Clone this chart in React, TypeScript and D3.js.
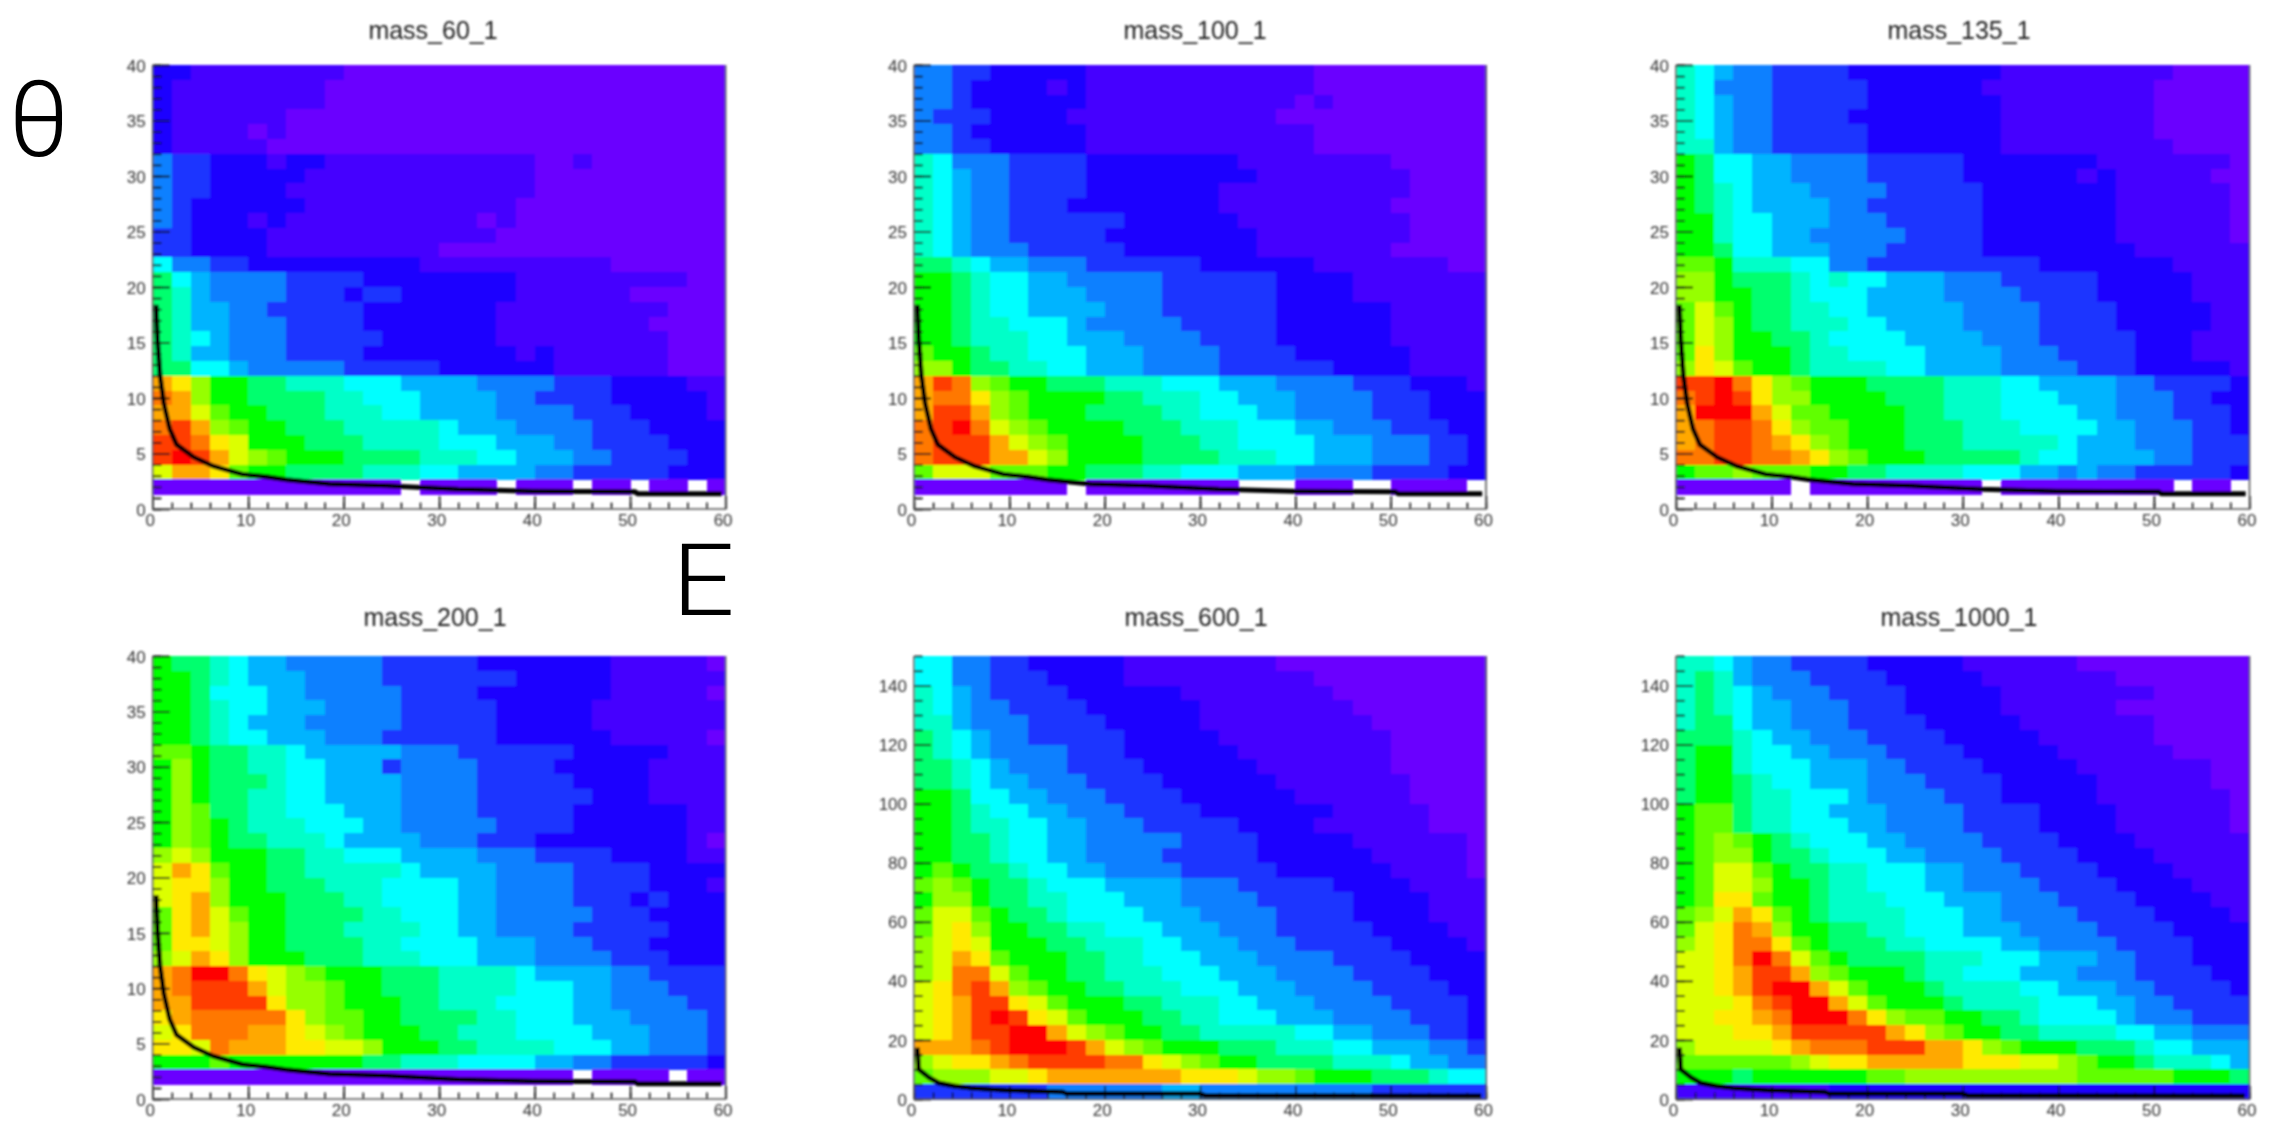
import React, { useEffect, useRef } from "react"
import * as d3 from "d3"

// z levels are written as letters a..r, "." is an empty bin. rows run top to bottom.
const levelColors = ["#6a00ff","#4400ff","#1a00ff","#1a35ff","#0f80ff","#00b4ff","#00ffff","#00ffc8","#00ff6e","#00ff00","#60ff00","#96ff00","#dcff00","#ffea00","#ffa800","#ff7800","#ff3c00","#ff0000"]

const xBinEdges = d3.range(0, 61, 2)
const xMajor = [0, 10, 20, 30, 40, 50, 60]
const xMinor = d3.range(0, 61, 2)
const yMajorNarrow = [0, 5, 10, 15, 20, 25, 30, 35, 40]
const yMinorNarrow = d3.range(0, 41, 1)
const yMajorWide = [0, 20, 40, 60, 80, 100, 120, 140]
const yMinorWide = d3.range(0, 151, 5)

// threshold curve, [E, theta]
const curveNarrow = [[0.35,18.4],[0.5,15.3],[0.76,12.1],[1.17,9.5],[1.78,7.2],[2.5,5.8],[4.3,4.67],[6.35,3.86],[9.4,3.12],[11.9,2.9],[14,2.64],[18.5,2.25],[24.6,2.09],[26,2.03],[32,1.77],[39.8,1.6],[50.5,1.55],[50.8,1.38],[59.6,1.38]]
const curveWide = [[0.35,17.4],[0.5,10],[1.6,7.2],[2.6,5.4],[4.2,4.4],[6.2,3.6],[9.7,3],[15.6,2.4],[16,1.8],[30,1.8],[30.5,1.2],[59.5,1]]

const mass60 = [
  "ccbbb bbbbb aaaaa aaaaa aaaaa aaaaa",
  "cbbbb bbbba aaaaa aaaaa aaaaa aaaaa",
  "cbbbb bbbba aaaaa aaaaa aaaaa aaaaa",
  "cbbbb bbaaa aaaaa aaaaa aaaaa aaaaa",
  "cbbbb abaaa aaaaa aaaaa aaaaa aaaaa",
  "cbbbb baaaa aaaaa aaaaa aaaaa aaaaa",
  "eddcc cbccb bbbbb bbbbb aabaa aaaaa",
  "eddcc cccbb bbbbb bbbbb aaaaa aaaaa",
  "eddcc ccbbb bbbbb bbbbb aaaaa aaaaa",
  "edccc cccbb bbbbb bbbba aaaaa aaaaa",
  "edccc bcbbb bbbbb bbaba aaaaa aaaaa",
  "ddccc cbbbb bbbbb bbbaa aaaaa aaaaa",
  "ddccc cbbbb bbbbb aaaaa aaaaa aaaaa",
  "geedd ccccc ccccb bbbbb bbbba aaaaa",
  "igfee eeddd dcccc ccccb bbbbb bbbaa",
  "ihfee eeddd cddcc ccccb bbbbb aaaaa",
  "ihffe edddd dcccc cccbb bbbbb bbaaa",
  "ihffe eeddd dcccc cccbb bbbbb baaaa",
  "ihgfe eeddd ddccc cccbb bbbbb bbaaa",
  "ihffe eeddd dcccc ccccb cbbbb bbaaa",
  "iiggf eeeee ddddd ccccc cbbbb bbaaa",
  "onljj iihhh gggff ffeee edddc cccbb",
  "poljj iiiih hgggf fffee ddddc ccccb",
  "oomkj jiiih hhggf fffee eeddd ccccb",
  "pqolk jjiii hhhhh gfffe eeedd dcccc",
  "qqpnm jjjii ihhhh gggff feedd ddccc",
  "qrqom lkjjj iiiih hhggf ffeed dddcc",
  "moonk jjiii ihhhg gffff eeddd ddccc",
  "aaaaa aaaaa aaa.a aaa.a aa.aa .aa.a",
  "..... ..... ..... ..... ..... .....",
]

const mass100 = [
  "eeddc ccccb bbbbb bbbbb baaaa aaaaa",
  "eedcc ccbcb bbbbb bbbbb baaaa aaaaa",
  "eedcc ccccb bbbbb bbbbb abaaa aaaaa",
  "edddc cccbb bbbbb bbbba aaaaa aaaaa",
  "eedcc ccccb bbbbb bbbbb baaaa aaaaa",
  "eeddc ccccb bbbbb bbbbb baaaa aaaaa",
  "hgeee ddddc ccccc ccbbb bbbbb aaaaa",
  "hgfee ddddc ccccc cccbb bbbbb baaaa",
  "hgfee ddddc ccccc cbbbb bbbbb baaaa",
  "hgfee dddcc ccccc cbbbb bbbbb aaaaa",
  "hgfee ddddd dcccc ccbbb bbbbb baaaa",
  "hgfee ddddd ccccc cccbb bbbbb baaaa",
  "hgfee edddd dcccc cccbb bbbbb aaaaa",
  "iihgf feeed ddddd ccccc cbbbb bbbaa",
  "jjihg gffee eeedd ddddc cccbb bbbbb",
  "jjihg gfffe eeedd ddddc cccbb bbbbb",
  "jjihg gffff eeedd ddddc ccccc bbbbb",
  "jjihh gggfe eeeed ddddc ccccc bbbbb",
  "jjihh hggff feeee ddddc ccccc bbbbb",
  "kjjih hgggf ffeee edddd ccccc cbbbb",
  "lljii hhggf ffeee edddd ddccc cbbbb",
  "oqplk jjiii hhhgg gfffe eeedd dcccb",
  "oppnl kjjjj iihhh ggfff eeeed ddccc",
  "oqqol kjjji iiihh gggff eeeed ddccc",
  "pqrpm lkjjj jiiih hhggg ffeee dddcc",
  "pqqqo mlkjj jjiii hhggg gfffe eeddc",
  "pqqqo omljj jjiii ihhhg gfffe eeddc",
  "kmmmk kkjji iihhg ggfff eeeed dddcc",
  "aaaaa aaa.a aaaaa aa... aaa.. aaaa.",
  "..... ..... ..... ..... ..... .....",
]

const mass135 = [
  "hgfee ddddc ccccc ccbbb bbbbb baaaa",
  "hgeee ddddd ccccc cbbbb bbbbb aaaaa",
  "hgfee ddddd ccccc ccbbb bbbbb aaaaa",
  "hgfee ddddc ccccc ccbbb bbbbb aaaaa",
  "hgfee ddddd ccccc ccbbb bbbbb aaaaa",
  "hhfee ddddd ccccc ccbbb bbbbb baaaa",
  "jiggf feeee ddddd ccccc ccbbb bbbba",
  "jiggf feeee ddddd ccccc cbcbb bbbaa",
  "jihgf ffeee edddd dcccc cccbb bbbba",
  "jihgf fffee ddddd dcccc cccbb bbbba",
  "jjhgg fffee edddd dcccc cccbb bbbba",
  "jjhgg ffeee eeddd dcccc cccbb bbbba",
  "jjigg fffee edddd dcccc ccccb bbbbb",
  "kkjhh hggee ddddd ddddc ccccc cbbbb",
  "lljii ihghg gfffe eeddd ddccc ccbbb",
  "lljji ihggg ffffe eeedd ddccc ccbbb",
  "kmkji ihhgg fffff eeeed dddcc cccbb",
  "kmlji ihhhg gffff eeeed dddcc cccbb",
  "kmljj iihgg ggfff feeed ddddc ccbbb",
  "knljj jihhg gggff ffeee ddddc ccbbb",
  "lnmkj jihhh hggff ffeee edddc ccccb",
  "qqrpn lkjjj iiiih hhggf fffee ddddc",
  "pqrqn lljjj jiiih hhggg fffee eddcc",
  "orrro mkkjj jjiih hhggg gffee edddc",
  "opqqp nlkkj jjiii hhhgg ggffe eeddc",
  "opqqp onlkj jjiii hhhhh gfffe eeddd",
  "ppqqp ponlk jjjii iiihg gffff eeddd",
  "jkklk kkjji ihhhh gggff efeed ddddc",
  "aaaaa a.aaa aaaaa a.aaa aaaaa a.aa.",
  "..... ..... ..... ..... ..... .....",
]

const mass200 = [
  "jiihg ffeee eeddd ddccc ccccb bbbba",
  "jjihg fffee eeddd ddddc ccccb bbbbb",
  "jjigg gffee eeedd ddccc ccccb bbbba",
  "jjihg gfffe eeedd dddcc cccbb bbbbb",
  "jjihg fffee eeedd dddcc cccbb bbbbb",
  "jjihg gfffe eeddd dddcc ccccb bbbba",
  "kkjii hhgff fffee edddd ddccc ccbbb",
  "jljii hhggf ffdee eeddd dcccc cbbbb",
  "jljii ihggf fffee eeddd ddccc cbbbb",
  "jljii hhggf fffee eeddd dddcc cbbbb",
  "jlkii hhggg fffee eeddd ddccc cccbb",
  "jlkji hhhgg gffee eeedd ddccc cccbb",
  "jlkji ihhhg ffffe eeddd ccccc cccba",
  "lmljj jiihh gggff ffeee ddddc cccbb",
  "monkj jiihh hhhgf fffee eeddd dcccc",
  "mnnlj jiiih hhggg gffee eeddd dcccb",
  "mnolj jjiii hhggg gffee eeddd cdccc",
  "knomk jjiii ihhgg gffee eeedd dcccc",
  "knoml jjiii hhhhg gffee eeddd ddccc",
  "knnml jjiii ihhgg ggfff eeedd dcccc",
  "lmonl jjjii ihhhg ggfff eeeed ddccc",
  "oprrp nmlkj jjiii hhhhg ffffe edddd",
  "opqqq omllk jjiii hhhhg ggffe eeddd",
  "ooqqq qnllk jjjii hhhgg ggffe eeedd",
  "noppp ppnlk kjjii iihhg ggfff eeeed",
  "mnppp oonml kjjji ihhhg gggff feeed",
  "nnmpo oonnm mljjj iihhh hgggf feeed",
  "jjjkj jjjjj jiihh hgggg ffeed ddddc",
  "aaaaa aaaaa aaaaa aaaaa aa.aa aa.aa",
  "..... ..... ..... ..... ..... .....",
]

const mass600 = [
  "ggeed dcccc cbbbb bbbba aaaaa aaaaa",
  "ggeed ddccc cbbbb bbbbb baaaa aaaaa",
  "hgfed dddcc ccccb bbbbb bbaaa aaaaa",
  "hgfee ddddc ccccc bbbbb bbbaa aaaaa",
  "hhfee edddd ccccc bbbbb bbbba aaaaa",
  "ihgfe edddd dcccc cbbbb bbbbb aaaaa",
  "ihgfe eeedd dcccc ccbbb bbbbb aaaaa",
  "iihgf eeedd ddccc cccbb bbbbb aaaaa",
  "iihgf feeed dddcc ccccb bbbbb baaaa",
  "jjigg ffeee ddddc ccccc bbbbb baaaa",
  "jjihg gffee edddd ccccc ccbbb bbaaa",
  "jjihh ggffe eeddd ddccc cbbbb bbaaa",
  "jjiih ggffe eeeed dddcc cccbb bbbba",
  "jjiih ggffe eeedd dddcc ccccb bbbba",
  "jkjii hggff eeeed ddddc ccccc bbbba",
  "klkji ihggg ffffe eeddd ddccc cbbbb",
  "jllji ihhgg gfffe eeedd dddcc ccbbb",
  "kmmkj iihgg ggfff eeeed dddcc ccbbb",
  "kmnlj jiihh gggff feeed ddddc cccbb",
  "lmnmj jjiih hhggf ffeee ddddd ccccb",
  "lmonk jjjii hhggg fffee eeddd dcccc",
  "lmppm kjjii hhhgg gfffe eeedd ddccc",
  "mnpqo lkjji ihhhg ggfff eeeed dddcc",
  "mnoqq nmkjj jiihh hggff feeee ddddc",
  "mnoqr qnmkj jjiih hgggf ffeee edddc",
  "mnoqq rroml kjjii hhhhh ggffe eeddc",
  "ooopq rrrqo mlkjj jiiih hhggf ffeed",
  "lmnno pqqqq ppnml kjjii iihhh gffee",
  "klllm mnooo oooon nnmll kjjji iihgg",
  "ddddd ddeee eeeff eeeee eeeed ddddd",
]

const mass1000 = [
  "hhgfe edddd ccccc bbbbb baaaa aaaaa",
  "hihfe eeddd dcccc cbbbb bbbaa aaaaa",
  "hihgf eeedd ddccc ccbbb bbbbb aaaaa",
  "hihgf feeed ddccc ccbbb bbbaa aaaaa",
  "hiigf feeed dddcc cccbb bbbbb aaaaa",
  "iiihg ffeee ddddc ccccb bbbbb aaaaa",
  "ijjhg gffee edddd ccccc bbbbb baaaa",
  "ijjhg ggfff eeddd dcccc cbbbb bbbaa",
  "ijjih ggfff eeedd ddccc ccbbb bbbaa",
  "ijjih hgggf eeeed ddccc ccbbb bbbba",
  "jkkih hggff feeee ddddc cccbb bbbba",
  "jkkih hgggf feeee ddddc cccbb bbbba",
  "jklkj ihggg ffeee edddd ccccb bbbbb",
  "jkllj iihgg gffee eeddd dcccc bbbbb",
  "jkmmk jiihh gggff eeedd ddccc cbbbb",
  "jkmml jjihh gggff eeeed dddcc ccbbb",
  "jknnk jjihh hgggf ffeee ddddc cccbb",
  "klmon kjihh hhggg ffeee edddd ccccb",
  "kmnpo ljjii hhggg fffee eeddd dcccc",
  "lmnpp nkjii ihhgg ggffe eeedd ddccc",
  "mmnpr pmkji iiihh hgggf ffeed ddccc",
  "mmnoq qolkj jjihh gggff feeed dddcc",
  "mmnoq rromk jjjih hhhgg fffee ddddc",
  "mmmnp qrrom kjjji hhhhg ggffe edddd",
  "mmnno prrrp nlkkj jiihg gggfe eeddd",
  "mmmnn oqqqq qonlk jjiih hhhgg ffeee",
  "lmmmm noppp qqqoo nlkjj jiiih ggfff",
  "kkkkk klmnn ooooo nnnmm lkjji hhhgf",
  "jjjij jjjjj kklll lllll lkkkk kjjji",
  "bbbbb bbbcc ccccc ccccc ccccc ccccc",
]

const panels = [
  { title: "mass_60_1", rows: mass60, yMax: 40, left: 152.7, right: 725.6, top: 65, bottom: 509, titleX: 433, titleY: 39 },
  { title: "mass_100_1", rows: mass100, yMax: 40, left: 914, right: 1486, top: 65, bottom: 509, titleX: 1195, titleY: 39 },
  { title: "mass_135_1", rows: mass135, yMax: 40, left: 1676, right: 2249.5, top: 65, bottom: 509, titleX: 1959, titleY: 39 },
  { title: "mass_200_1", rows: mass200, yMax: 40, left: 152.7, right: 725.6, top: 656, bottom: 1099, titleX: 435, titleY: 626 },
  { title: "mass_600_1", rows: mass600, yMax: 150, left: 914, right: 1486, top: 656, bottom: 1099, titleX: 1196, titleY: 626 },
  { title: "mass_1000_1", rows: mass1000, yMax: 150, left: 1676, right: 2249.5, top: 656, bottom: 1099, titleX: 1959, titleY: 626 },
]

const fontFamily = "'Liberation Sans', Arial, sans-serif"

function Panel({ panel }) {
  const axesRef = useRef(null)
  const { rows, yMax, left, right, top, bottom } = panel
  const wide = yMax > 40

  const x = d3.scaleLinear().domain([0, 60]).range([left, right])
  const y = d3.scaleLinear().domain([0, yMax]).range([bottom, top])
  const yBin = d3.scaleBand().domain(d3.range(rows.length)).range([top, bottom])
  const color = d3.scaleOrdinal().domain("abcdefghijklmnopqr".split("")).range(levelColors)

  const line = d3.line().x(d => x(d[0])).y(d => y(d[1]))

  useEffect(() => {
    const axes = d3.select(axesRef.current)
    axes.selectAll("*").remove()

    const yMajor = wide ? yMajorWide : yMajorNarrow
    const yMinor = wide ? yMinorWide : yMinorNarrow

    const addAxis = (axis, dx, dy, strokeWidth) => {
      const g = axes.append("g").attr("transform", `translate(${dx},${dy})`).call(axis)
      g.select(".domain").remove()
      g.selectAll("line").attr("stroke", "#111").attr("stroke-width", strokeWidth)
      return g
    }

    addAxis(d3.axisLeft(y).tickValues(yMinor).tickSize(-8.7).tickFormat(""), left, 0, 1.8)
    addAxis(d3.axisBottom(x).tickValues(xMinor).tickSize(-6.4).tickFormat(""), 0, bottom, 1.6)

    const yAxis = addAxis(d3.axisLeft(y).tickValues(yMajor).tickSize(-17).tickPadding(7).tickFormat(d3.format("d")), left, 0, 1.8)
    const xAxis = addAxis(d3.axisBottom(x).tickValues(xMajor).tickSize(-13).tickPadding(5).tickFormat(d3.format("d")), 0, bottom, 1.6)

    axes.selectAll("text")
      .attr("font-family", fontFamily)
      .attr("font-size", 17)
      .attr("fill", "#333")
    xAxis.selectAll("text").attr("dx", -3)
    yAxis.selectAll("text").attr("dy", "0.36em")
  }, [])

  return (
    <g filter="url(#soften)">
      <text x={panel.titleX} y={panel.titleY} textAnchor="middle" fontFamily={fontFamily} fontSize={25} fill="#222">{panel.title}</text>
      <g shapeRendering="crispEdges">
        {rows.map((row, k) =>
          row.replace(/ /g, "").split("").map((level, i) => level === "." ? null : (
            <rect key={k + "-" + i}
              x={x(xBinEdges[i])}
              y={yBin(k)}
              width={x(xBinEdges[i + 1]) - x(xBinEdges[i]) + 0.5}
              height={yBin.bandwidth() + 0.5}
              fill={color(level)} />
          ))
        )}
      </g>
      <g ref={axesRef} />
      <path d={line(wide ? curveWide : curveNarrow)} fill="none" stroke="#000" strokeWidth={5} />
      <path d={`M${left},${top}V${bottom}H${right}V${top}`} fill="none" stroke="#555" strokeWidth={1.6} />
    </g>
  )
}

export default function App() {
  return (
    <svg width={2269} height={1127} style={{ position: "absolute", left: 0, top: 0, background: "#fff" }}>
      <defs>
        <filter id="soften" x="-5%" y="-5%" width="110%" height="110%">
          <feGaussianBlur stdDeviation="1.3" />
        </filter>
      </defs>
      {panels.map(p => <Panel key={p.title} panel={p} />)}
      <text x={39} y={156} textAnchor="middle" fontFamily="Roboto, sans-serif" fontWeight={300} fontSize={106} fill="#000">θ</text>
      <text transform="translate(672,615) scale(1.1,1)" fontFamily="Roboto, sans-serif" fontWeight={300} fontSize={100} fill="#000">E</text>
    </svg>
  )
}
